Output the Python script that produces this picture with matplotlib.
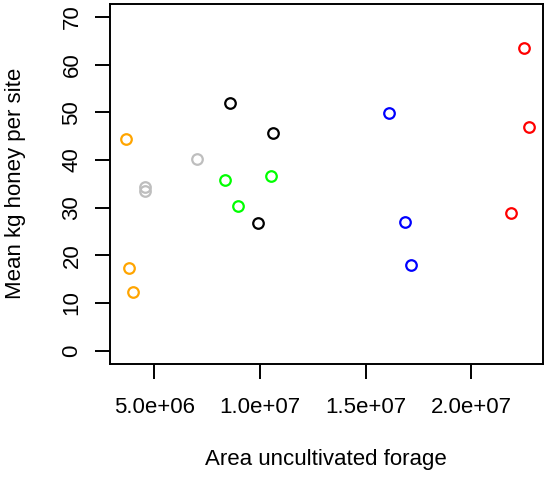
import matplotlib
matplotlib.use("Agg")
import matplotlib.pyplot as plt
from matplotlib.ticker import FixedLocator, FuncFormatter

# forage area (m2) and mean honey (kg) per site, grouped by colour
orange_x = [3.65e6, 3.79e6, 4.01e6]
orange_y = [44.4, 17.4, 12.4]
grey_x = [4.55e6, 4.55e6, 7.04e6]
grey_y = [34.3, 33.5, 40.1]
green_x = [8.36e6, 10.51e6, 8.98e6]
green_y = [35.8, 36.6, 30.4]
black_x = [8.58e6, 10.61e6, 9.92e6]
black_y = [52.0, 45.7, 26.7]
blue_x = [16.10e6, 16.86e6, 17.14e6]
blue_y = [49.9, 26.9, 18.0]
red_x = [22.50e6, 22.74e6, 21.90e6]
red_y = [63.4, 46.9, 28.8]

groups = [
    (orange_x, orange_y, "#FFA500"),
    (grey_x, grey_y, "#BEBEBE"),
    (green_x, green_y, "#00FF00"),
    (black_x, black_y, "#000000"),
    (blue_x, blue_y, "#0000FF"),
    (red_x, red_y, "#FF0000"),
]

x_ticks = [5e6, 1e7, 1.5e7, 2e7]
y_ticks = [0, 10, 20, 30, 40, 50, 60, 70]

plt.rcParams["font.family"] = ["Liberation Sans", "DejaVu Sans"]
plt.rcParams["font.size"] = 16

fig = plt.figure(figsize=(5.44, 4.78), dpi=100)
ax = fig.add_axes([109.5 / 544, 1 - 364 / 478, 433.5 / 544, 360.5 / 478])

for xs, ys, col in groups:
    ax.plot(xs, ys, linestyle="none", marker="o", markersize=7.6,
            markerfacecolor="none", markeredgecolor=col, markeredgewidth=1.6)

ax.set_xlim(2.879e6, 23.40e6)
ax.set_ylim(-2.8, 72.8)

ax.xaxis.set_major_locator(FixedLocator(x_ticks))
ax.xaxis.set_major_formatter(FuncFormatter(lambda v, p: "{:.1e}".format(v)))
ax.yaxis.set_major_locator(FixedLocator(y_ticks))
ax.tick_params(axis="both", direction="out", length=10.5, width=1.4,
               labelsize=16)
ax.tick_params(axis="x", pad=13)
ax.tick_params(axis="y", pad=9)
for lab in ax.get_yticklabels():
    lab.set_rotation(90)
    lab.set_va("center")

for sp in ax.spines.values():
    sp.set_linewidth(1.4)

ax.set_xlabel("Area uncultivated forage")
ax.xaxis.set_label_coords(0.5, -(460 - 364) / 360.5)
ax.xaxis.label.set_va("center")
ax.set_ylabel("Mean kg honey per site")
ax.yaxis.set_label_coords((16 - 109.5) / 433.5, 0.5)
ax.yaxis.label.set_va("center")

plt.savefig("out.png", dpi=100)
